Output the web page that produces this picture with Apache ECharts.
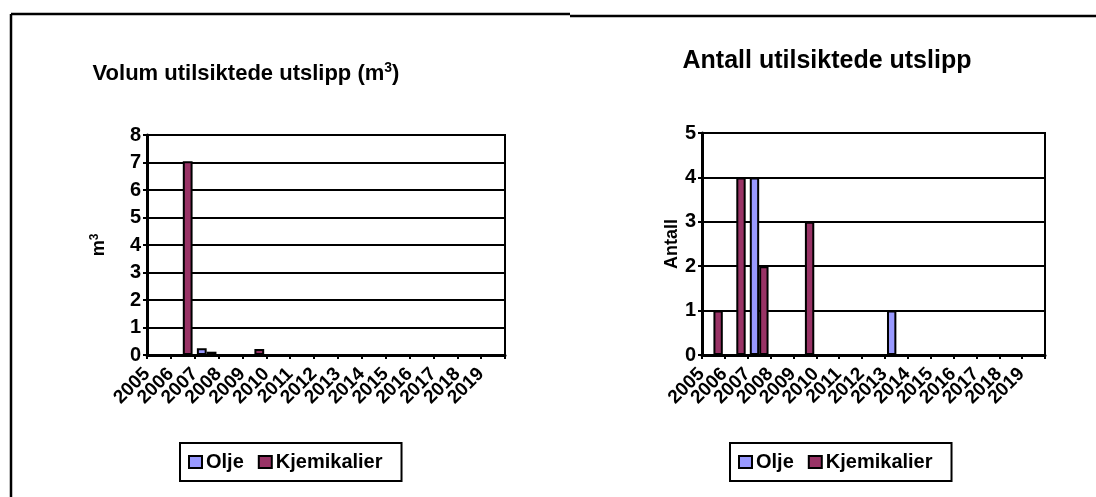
<!DOCTYPE html>
<html>
<head>
<meta charset="utf-8">
<script src="https://cdn.jsdelivr.net/npm/echarts@6/dist/echarts.min.js"></script>
<style>
html,body{margin:0;padding:0;background:#fff;}
#c{width:1096px;height:497px;}
</style>
</head>
<body>
<div id="c"></div>
<script>
const years = ['2005','2006','2007','2008','2009','2010','2011','2012','2013','2014','2015','2016','2017','2018','2019'];
const seriesNames = ['Olje', 'Kjemikalier'];
// Volume (m3)
const volOlje = [0, 0, 0.25, 0, 0, 0, 0, 0, 0, 0, 0, 0, 0, 0, 0];
const volKjem = [0, 7.05, 0.12, 0, 0.22, 0, 0, 0, 0, 0, 0, 0, 0, 0, 0];
// Count
const antOlje = [0, 0, 4, 0, 0, 0, 0, 0, 1, 0, 0, 0, 0, 0, 0];
const antKjem = [1, 4, 2, 0, 3, 0, 0, 0, 0, 0, 0, 0, 0, 0, 0];
const volTicks = [0,1,2,3,4,5,6,7,8];
const antTicks = [0,1,2,3,4,5];

const FONT = '"Liberation Sans", Arial, sans-serif';
const colors = ['#9999FF', '#993366'];

const chart = echarts.init(document.getElementById('c'), null, {renderer: 'canvas'});

function xAxis(gi) {
  return {
    type: 'category', gridIndex: gi, data: years,
    axisLine: {show: true, lineStyle: {color: '#000', width: 3}},
    axisTick: {show: true, inside: false, length: 4, lineStyle: {color: '#000', width: 2}},
    axisLabel: {rotate: 45, interval: 0, margin: 4, padding: [0, 17, 0, 0],
      color: '#000', fontFamily: FONT, fontWeight: 'bold', fontSize: 19}
  };
}
function yAxis(gi, ticks, name, nameGap) {
  return {
    type: 'value', gridIndex: gi, min: ticks[0], max: ticks[ticks.length - 1], interval: 1,
    name: name, nameLocation: 'middle', nameGap: nameGap, nameRotate: 90,
    nameTextStyle: {color: '#000', fontFamily: FONT, fontWeight: 'bold', fontSize: 18,
      rich: {
        n: {fontSize: 18, fontWeight: 'bold', fontFamily: FONT, color: '#000'},
        sup: {fontSize: 12, fontWeight: 'bold', fontFamily: FONT, color: '#000', verticalAlign: 'top', padding: [0,0,9,0]}}},
    axisLine: {show: true, lineStyle: {color: '#000', width: 3}},
    axisTick: {show: true, inside: false, length: 4, lineStyle: {color: '#000', width: 2}},
    axisLabel: {color: '#000', fontFamily: FONT, fontWeight: 'bold', fontSize: 20, margin: 6},
    splitLine: {show: true, lineStyle: {color: '#000', width: 2}}
  };
}
function bar(name, data, gi, ci) {
  return {
    type: 'bar', name: name, data: data, xAxisIndex: gi, yAxisIndex: gi,
    barGap: '0%', barCategoryGap: '18%',
    itemStyle: {color: colors[ci], borderColor: '#000', borderWidth: 2},
    emphasis: {disabled: true}, animation: false
  };
}
function legend(left) {
  return {
    left: left, top: 443, orient: 'horizontal', icon: 'rect',
    data: seriesNames.map(n => ({name: n})),
    borderColor: '#000', borderWidth: 2, padding: [9, 19, 9, 8],
    itemWidth: 13, itemHeight: 12, itemGap: 14,
    itemStyle: {borderColor: '#000', borderWidth: 2},
    textStyle: {color: '#000', fontFamily: FONT, fontWeight: 'bold', fontSize: 20, padding: [0,0,0,-1]}
  };
}

chart.setOption({
  animation: false,
  backgroundColor: '#fff',
  title: [
    {text: '{a|Volum utilsiktede utslipp (m}{s|3}{a|)}', left: 241, top: 56, textAlign: 'center',
      textStyle: {rich: {
        a: {fontFamily: FONT, fontWeight: 'bold', fontSize: 22, color: '#000'},
        s: {fontFamily: FONT, fontWeight: 'bold', fontSize: 14, color: '#000', verticalAlign: 'top', padding: [0,0,11,0]}
      }}},
    {text: 'Antall utilsiktede utslipp', left: 822, top: 44, textAlign: 'center',
      textStyle: {fontFamily: FONT, fontWeight: 'bold', fontSize: 25, color: '#000'}}
  ],
  grid: [
    {left: 147, top: 135, width: 358, height: 220, show: true, borderColor: '#000', borderWidth: 2, backgroundColor: 'transparent'},
    {left: 702, top: 133, width: 343, height: 222, show: true, borderColor: '#000', borderWidth: 2, backgroundColor: 'transparent'}
  ],
  xAxis: [xAxis(0), xAxis(1)],
  yAxis: [yAxis(0, volTicks, '{n|m}{sup|3}', 37), yAxis(1, antTicks, 'Antall', 20)],
  legend: [legend(180), legend(730)],
  series: [
    bar(seriesNames[0], volOlje, 0, 0),
    bar(seriesNames[1], volKjem, 0, 1),
    bar(seriesNames[0], antOlje, 1, 0),
    bar(seriesNames[1], antKjem, 1, 1)
  ],
  graphic: [
    {type: 'line', shape: {x1: 11, y1: 14, x2: 570, y2: 14}, style: {stroke: '#000', lineWidth: 2.5}, silent: true},
    {type: 'line', shape: {x1: 11, y1: 14, x2: 11, y2: 497}, style: {stroke: '#000', lineWidth: 2.5}, silent: true},
    {type: 'line', shape: {x1: 570, y1: 16, x2: 1096, y2: 16}, style: {stroke: '#000', lineWidth: 2.5}, silent: true}
  ]
});
</script>
</body>
</html>
